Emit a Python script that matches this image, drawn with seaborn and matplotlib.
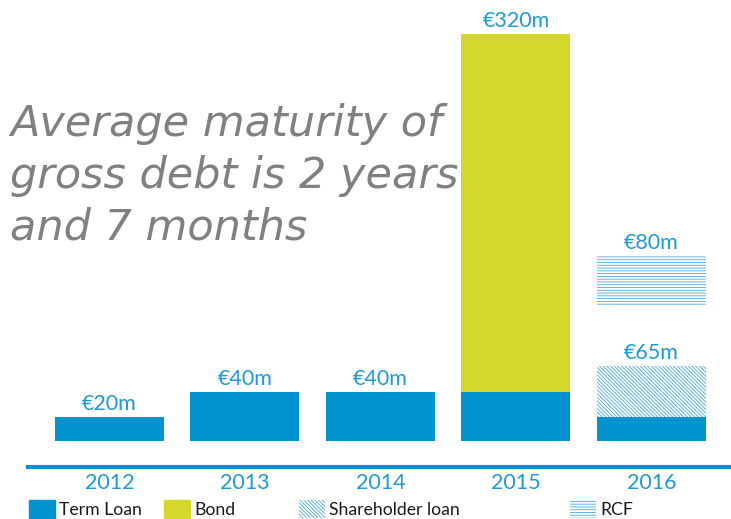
import matplotlib
matplotlib.use('Agg')
import matplotlib.pyplot as plt
import matplotlib.patches as mpatches
import seaborn as sns
import pandas as pd

years = ['2012', '2013', '2014', '2015', '2016']
term_loan = [20, 40, 40, 40, 20]
bond = [0, 0, 0, 292, 0]
shareholder = [0, 0, 0, 0, 41]
rcf_low = [0, 0, 0, 0, 111]
rcf_high = [0, 0, 0, 0, 151]
value_labels = ['€20m', '€40m', '€40m', '€320m', '€65m']
rcf_labels = ['', '', '', '', '€80m']
note = 'Average maturity of\ngross debt is 2 years\nand 7 months'

blue = '#0093D0'
lime = '#D4D82A'
hatch_blue = '#45AADD'
label_blue = '#1E9AD6'
diag = '\\' * 9
horiz = '-' * 6

sns.set_style('white')
plt.rcParams['font.family'] = ['Lato', 'DejaVu Sans']
plt.rcParams['hatch.linewidth'] = 0.6

df = pd.DataFrame({'year': years, 'term': term_loan, 'bond': bond, 'sh': shareholder,
                   'rcf_low': rcf_low, 'rcf_high': rcf_high})
df['stack_bond'] = df['term'] + df['bond']
df['stack_sh'] = df['term'] + df['sh']
df['rcf_h'] = df['rcf_high'] - df['rcf_low']

fig = plt.figure(figsize=(7.31, 5.19), dpi=100)
ax = fig.add_axes([28 / 731, 52 / 519, 1 - 28 / 731, 1 - 52 / 519])

w = 0.805
sns.barplot(data=df, x='year', y='stack_bond', color=lime, width=w, saturation=1, ax=ax, linewidth=0)
sns.barplot(data=df, x='year', y='stack_sh', color='white', width=w, saturation=1, ax=ax,
            linewidth=0, edgecolor=hatch_blue, hatch=diag)
sns.barplot(data=df, x='year', y='term', color=blue, width=w, saturation=1, ax=ax, linewidth=0)
sns.barplot(data=df, x='year', y='rcf_h', bottom=df['rcf_low'], color='white', width=w, saturation=1,
            ax=ax, linewidth=0, edgecolor=hatch_blue, hatch=horiz)

tops = df[['stack_bond', 'stack_sh']].max(axis=1)
for i, lab in enumerate(value_labels):
    ax.annotate(lab, (i, tops[i]), xytext=(0, 5), textcoords='offset points',
                ha='center', va='baseline', fontsize=15.5, color=label_blue)
for i, lab in enumerate(rcf_labels):
    if lab:
        ax.annotate(lab, (i, rcf_high[i]), xytext=(0, 5), textcoords='offset points',
                    ha='center', va='baseline', fontsize=15.5, color=label_blue)

ax.set_xlim(-0.601, 4.587)
ax.set_ylim(-21.2, 360)
ax.set_xlabel('')
ax.set_ylabel('')
ax.set_yticks([])
sns.despine(ax=ax, left=True, top=True, right=True)
ax.spines['bottom'].set_color(blue)
ax.spines['bottom'].set_linewidth(3)
ax.tick_params(axis='x', length=0, pad=4, labelsize=15.5, labelcolor=label_blue)

# handwritten note (no script font available, oblique sans instead)
fig.text(10 / 731, 1 - 176 / 519, note, fontsize=31, color='#808080', style='italic',
         family='DejaVu Sans', va='center', ha='left', linespacing=1.3)

entries = [
    (mpatches.Patch(facecolor=blue, edgecolor=blue), 'Term Loan', 29),
    (mpatches.Patch(facecolor=lime, edgecolor=lime), 'Bond', 164),
    (mpatches.Patch(facecolor='white', edgecolor=hatch_blue, hatch=diag, linewidth=0), 'Shareholder loan', 299),
    (mpatches.Patch(facecolor='white', edgecolor=hatch_blue, hatch=horiz, linewidth=0), 'RCF', 570),
]
for handle, text, xpx in entries:
    leg = fig.legend([handle], [text], loc='center left', bbox_to_anchor=(xpx / 731, 1 - 509 / 519),
                     frameon=False, fontsize=12.7, handlelength=1.5, handleheight=1.25,
                     handletextpad=0.2, borderpad=0, borderaxespad=0)
    for t in leg.get_texts():
        t.set_color('#1a1a1a')

fig.savefig('out.png', dpi=100)
